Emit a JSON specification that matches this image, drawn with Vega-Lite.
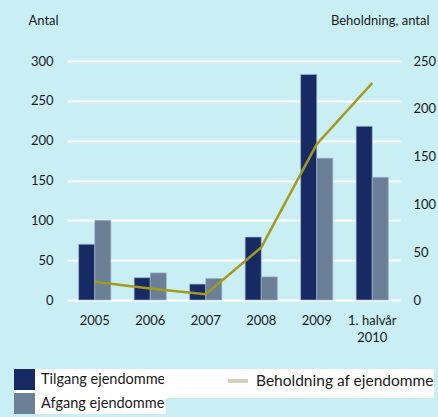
{
  "$schema": "https://vega.github.io/schema/vega-lite/v6.json",
  "autosize": "none",
  "width": 333,
  "height": 239,
  "padding": {"left": 67, "top": 61, "right": 38, "bottom": 117},
  "background": "#c9eff4",
  "view": {"stroke": null},
  "config": {
    "font": "Lato",
    "axis": {"labelFont": "Lato", "titleFont": "Lato", "labelColor": "#1a1a1a", "titleColor": "#1a1a1a"},
    "legend": {"labelFont": "Lato", "titleFont": "Lato"}
  },
  "data": {
    "values": [
      {"period": "2005", "series": "Tilgang ejendomme", "value": 70},
      {"period": "2005", "series": "Afgang ejendomme", "value": 100},
      {"period": "2005", "series": "Beholdning af ejendomme", "value": 19},
      {"period": "2006", "series": "Tilgang ejendomme", "value": 28},
      {"period": "2006", "series": "Afgang ejendomme", "value": 34},
      {"period": "2006", "series": "Beholdning af ejendomme", "value": 12},
      {"period": "2007", "series": "Tilgang ejendomme", "value": 20},
      {"period": "2007", "series": "Afgang ejendomme", "value": 27},
      {"period": "2007", "series": "Beholdning af ejendomme", "value": 6},
      {"period": "2008", "series": "Tilgang ejendomme", "value": 79},
      {"period": "2008", "series": "Afgang ejendomme", "value": 29},
      {"period": "2008", "series": "Beholdning af ejendomme", "value": 55},
      {"period": "2009", "series": "Tilgang ejendomme", "value": 283},
      {"period": "2009", "series": "Afgang ejendomme", "value": 178},
      {"period": "2009", "series": "Beholdning af ejendomme", "value": 163},
      {"period": "1. halvår|2010", "series": "Tilgang ejendomme", "value": 218},
      {"period": "1. halvår|2010", "series": "Afgang ejendomme", "value": 154},
      {"period": "1. halvår|2010", "series": "Beholdning af ejendomme", "value": 227}
    ]
  },
  "encoding": {
    "x": {
      "field": "period",
      "type": "nominal",
      "sort": null,
      "scale": {"paddingInner": 0.42, "paddingOuter": 0.21},
      "axis": {
        "title": null,
        "labelAngle": 0,
        "domain": false,
        "ticks": false,
        "labelFontSize": 13,
        "labelPadding": 14,
        "labelBaseline": "top",
        "labelLineHeight": 17,
        "labelExpr": "split(datum.label, '|')"
      }
    }
  },
  "layer": [
    {
      "transform": [{"filter": "datum.series !== 'Beholdning af ejendomme'"}],
      "mark": {"type": "bar", "stroke": "#9db3c9", "strokeWidth": 0.7},
      "encoding": {
        "xOffset": {"field": "series", "type": "nominal", "scale": {"domain": ["Tilgang ejendomme", "Afgang ejendomme"]}},
        "y": {
          "field": "value",
          "type": "quantitative",
          "scale": {"domain": [0, 300]},
          "axis": {
            "title": "Antal",
            "titleAngle": 0,
            "titleX": -39,
            "titleY": -41,
            "titleAlign": "left",
            "titleBaseline": "middle",
            "titleFontSize": 13,
            "titleFontWeight": "normal",
            "values": [0, 50, 100, 150, 200, 250, 300],
            "domain": false,
            "ticks": false,
            "labelFontSize": 13,
            "labelPadding": 14,
            "grid": true,
            "gridColor": "white",
            "gridWidth": 2,
            "gridOpacity": 1
          }
        },
        "color": {
          "field": "series",
          "type": "nominal",
          "scale": {
            "domain": ["Tilgang ejendomme", "Afgang ejendomme"],
            "range": ["#172a63", "#6b7f96"]
          },
          "legend": {
            "title": null,
            "orient": "none",
            "legendX": -53,
            "legendY": 308,
            "direction": "vertical",
            "rowPadding": 3,
            "padding": 0,
            "fillColor": "white",
            "symbolSize": 441,
            "symbolType": "square",
            "symbolStrokeWidth": 0,
            "symbolOpacity": 1,
            "labelFontSize": 14.5,
            "labelColor": "#1a1a1a",
            "labelOffset": 6,
            "labelLimit": 300
          }
        }
      }
    },
    {
      "transform": [{"filter": "datum.series === 'Beholdning af ejendomme'"}],
      "mark": {"type": "line", "strokeWidth": 2.5, "stroke": "#a39a1b"},
      "encoding": {
        "y": {
          "field": "value",
          "type": "quantitative",
          "scale": {"domain": [0, 250]},
          "axis": {
            "orient": "right",
            "title": "Beholdning, antal",
            "titleAngle": 0,
            "titleX": 29,
            "titleY": -41,
            "titleAlign": "right",
            "titleBaseline": "middle",
            "titleFontSize": 13,
            "titleFontWeight": "normal",
            "values": [0, 50, 100, 150, 200, 250],
            "domain": false,
            "ticks": false,
            "grid": false,
            "labelFontSize": 13,
            "labelPadding": 13
          }
        },
        "strokeDash": {
          "field": "series",
          "type": "nominal",
          "scale": {"domain": ["Beholdning af ejendomme"], "range": [[1, 0]]},
          "legend": {
            "title": [" ", " "],
            "titleOrient": "left",
            "titlePadding": 62,
            "titleFontSize": 14,
            "titleLineHeight": 23,
            "orient": "none",
            "legendX": 97,
            "legendY": 308,
            "padding": 0,
            "fillColor": "white",
            "symbolType": "stroke",
            "symbolSize": 400,
            "symbolStrokeColor": "#d3cfbb",
            "symbolStrokeWidth": 4,
            "symbolDash": [1, 0],
            "labelFontSize": 15.5,
            "labelColor": "#1a1a1a",
            "labelOffset": 6,
            "labelLimit": 300
          }
        }
      }
    }
  ],
  "resolve": {"scale": {"y": "independent"}}
}
